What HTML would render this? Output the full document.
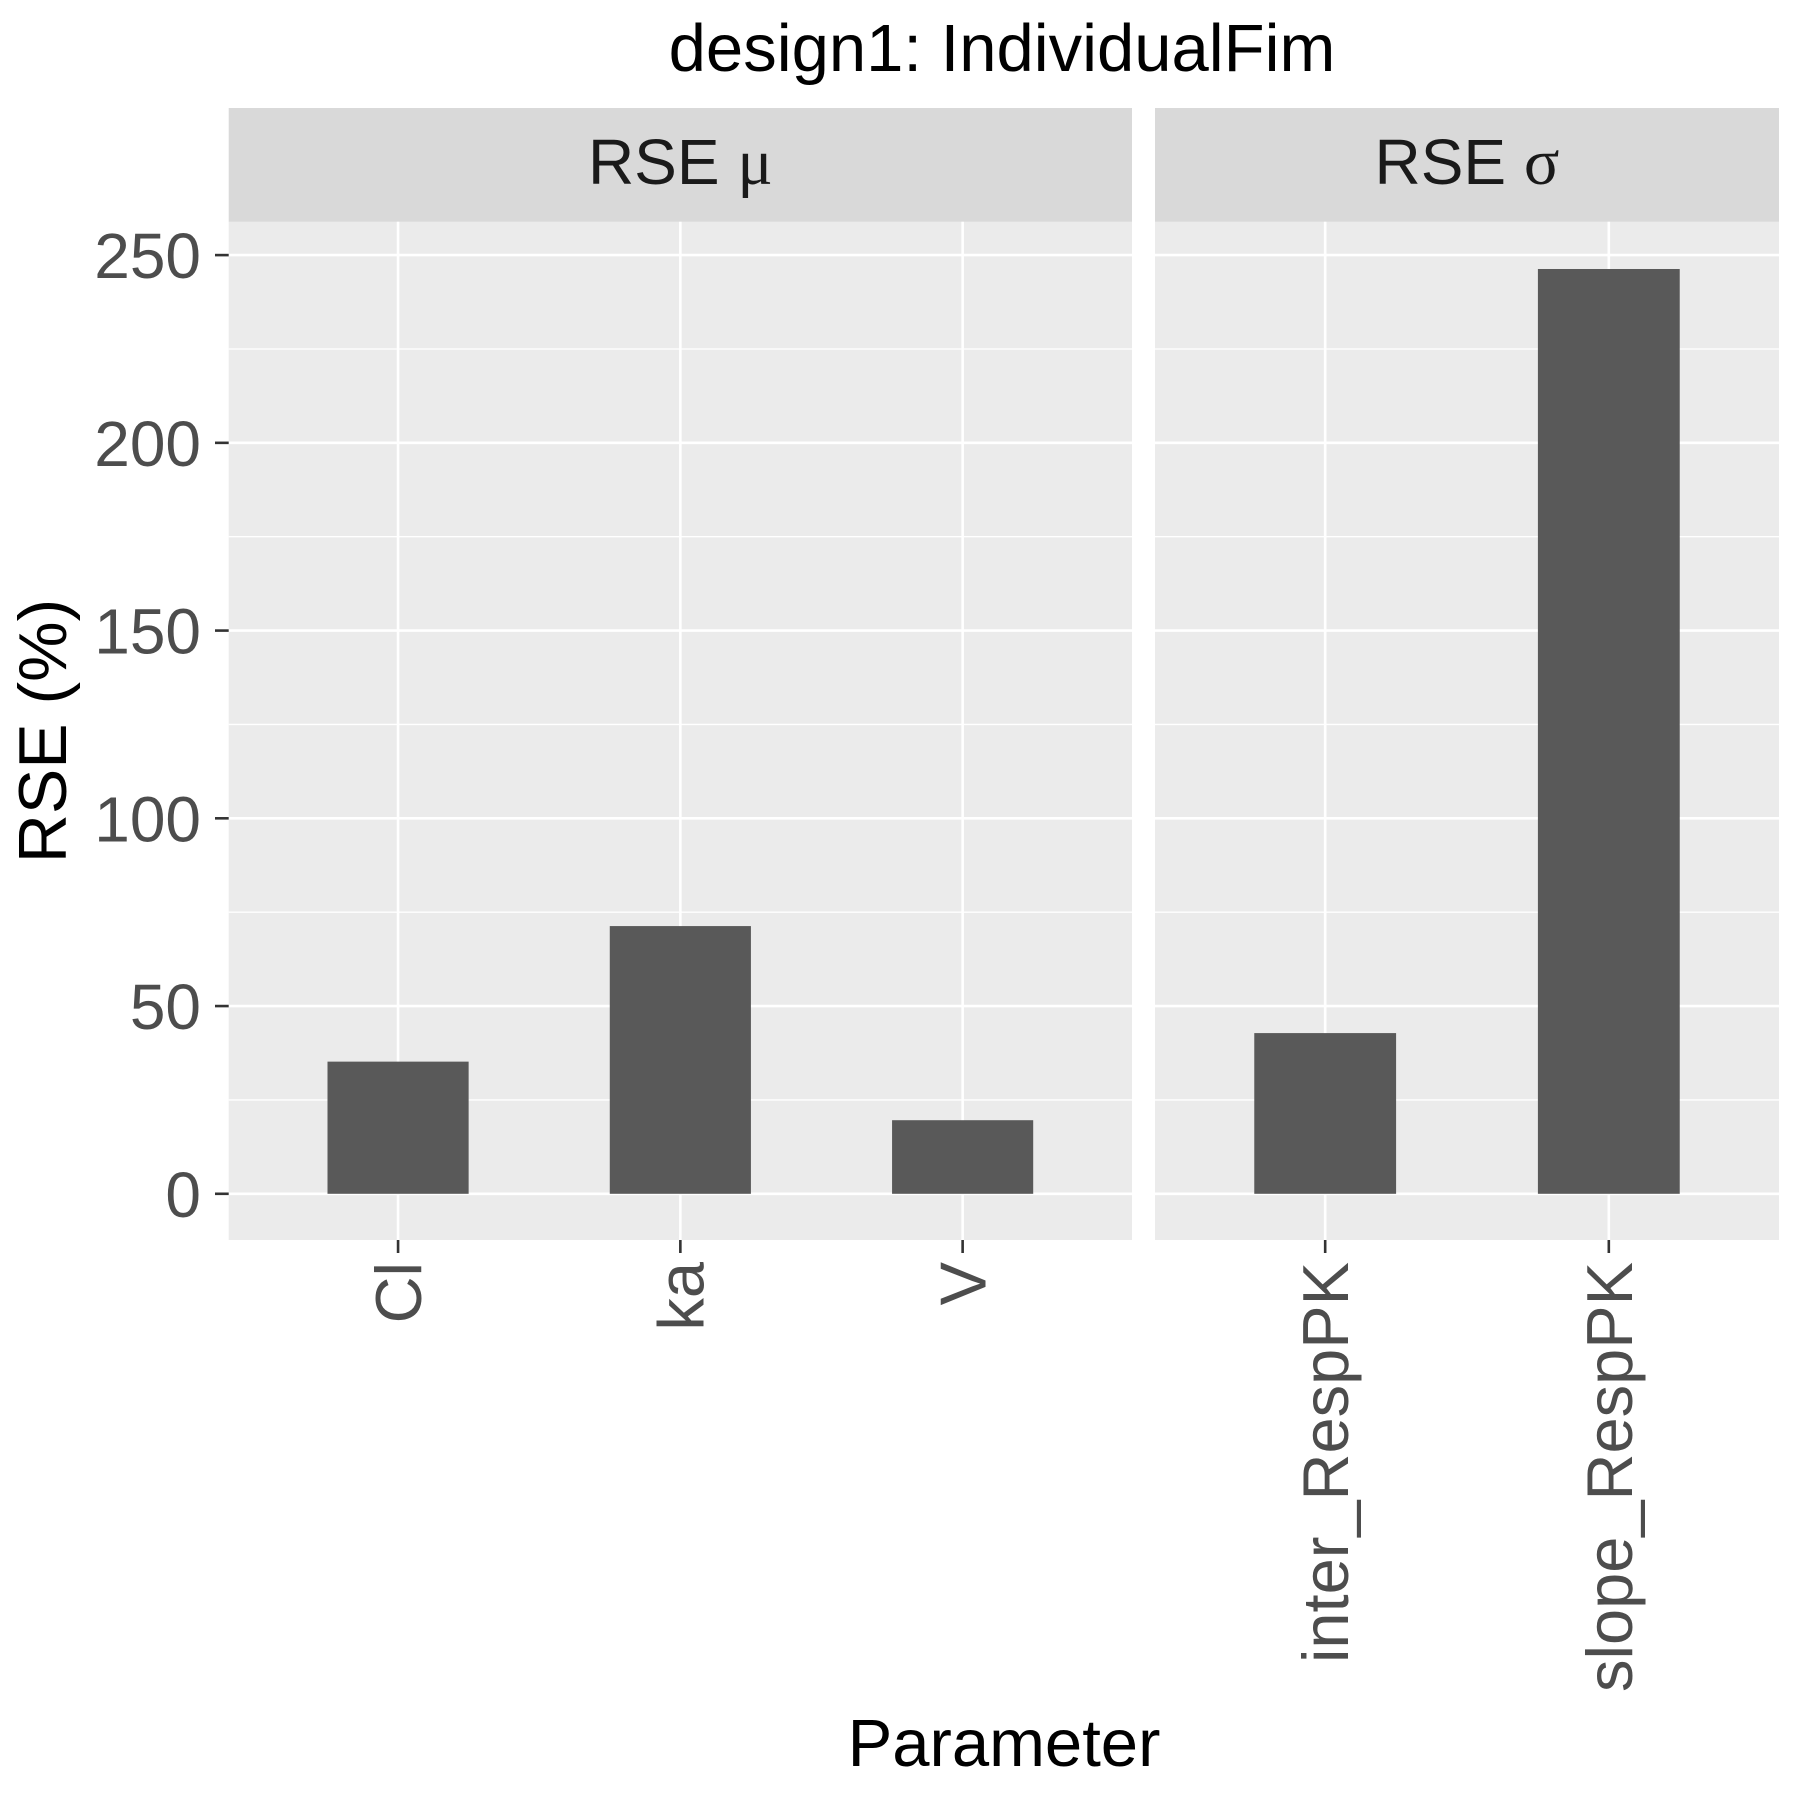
<!DOCTYPE html>
<html><head><meta charset="utf-8"><style>body{margin:0;background:#fff}svg{display:block}</style></head>
<body>
<svg id="chart" width="1800" height="1800" viewBox="0 0 1800 1800" xmlns="http://www.w3.org/2000/svg" font-family="Liberation Sans, Arial, sans-serif">
<text x="1002" y="71" font-size="67" text-anchor="middle" fill="#000">design1: IndividualFim</text>
<text transform="translate(66,731) rotate(-90)" font-size="68" text-anchor="middle" fill="#000">RSE (%)</text>
<text x="1004" y="1766" font-size="67" text-anchor="middle" fill="#000">Parameter</text>
<g id="plot"></g>
</svg>
<script>
const panelSymbols = ["μ", "σ"];
const panel1Categories = ["Cl", "ka", "V"];
const panel1Values = [35.2, 71.3, 19.6];
const panel2Categories = ["inter_RespPK", "slope_RespPK"];
const panel2Values = [42.8, 246.3];
const yTicks = [0, 50, 100, 150, 200, 250];
const yTickLabels = ["0", "50", "100", "150", "200", "250"];

const NS = "http://www.w3.org/2000/svg";
const plotG = document.getElementById("plot");
function mk(tag, attrs, parent) {
  const e = document.createElementNS(NS, tag);
  for (const k in attrs) e.setAttribute(k, attrs[k]);
  (parent || plotG).appendChild(e);
  return e;
}
const plotTop = 221.8, plotBottom = 1240, stripTop = 108;
function yScale(v) { return 1193.8 - (v / 250) * (1193.8 - 255.1); }
const panels = [
  { x0: 228.7, x1: 1132, cats: panel1Categories, vals: panel1Values, key: "mu" },
  { x0: 1155, x1: 1779, cats: panel2Categories, vals: panel2Values, key: "sigma" }
];
panels.forEach((p, pi) => {
  const n = p.cats.length;
  const step = (p.x1 - p.x0) / (n + 0.2);
  const xs = i => p.x0 + (0.6 + i) * step;
  const bg = mk("rect", { x: p.x0, y: plotTop, width: p.x1 - p.x0, height: plotBottom - plotTop, fill: "#ebebeb" });
  
  
  const strip = mk("rect", { x: p.x0, y: stripTop, width: p.x1 - p.x0, height: plotTop - stripTop, fill: "#d9d9d9" });
  
  
  const st = mk("text", { x: (p.x0 + p.x1) / 2, y: 184, "font-size": 64, "text-anchor": "middle", fill: "#1a1a1a" });
  
  
  const t1 = mk("tspan", {}, st);
  t1.textContent = "RSE ";
  const t2 = mk("tspan", { "font-family": "Liberation Serif, serif", "font-size": 66 }, st);
  t2.textContent = panelSymbols[pi];
  for (let i = 0; i < yTicks.length - 1; i++) {
    const m = (yTicks[i] + yTicks[i + 1]) / 2;
    const l = mk("line", { x1: p.x0, x2: p.x1, y1: yScale(m), y2: yScale(m), stroke: "#fff", "stroke-width": 1.3 });
    
    
  }
  yTicks.forEach(t => {
    const l = mk("line", { x1: p.x0, x2: p.x1, y1: yScale(t), y2: yScale(t), stroke: "#fff", "stroke-width": 2.6 });
    
    
  });
  p.cats.forEach((c, i) => {
    const l = mk("line", { x1: xs(i), x2: xs(i), y1: plotTop, y2: plotBottom, stroke: "#fff", "stroke-width": 2.6 });
    
    
  });
  p.cats.forEach((c, i) => {
    const bw = step * 0.5;
    const b = mk("rect", { x: xs(i) - bw / 2, y: yScale(p.vals[i]), width: bw, height: yScale(0) - yScale(p.vals[i]), fill: "#595959" });
    
    
    const tk = mk("line", { x1: xs(i), x2: xs(i), y1: plotBottom, y2: plotBottom + 13, stroke: "#333", "stroke-width": 2.6 });
    
    
    const tl = mk("text", { transform: `translate(${xs(i) + 23},${plotBottom + 22}) rotate(-90)`, "font-size": 65, "text-anchor": "end", fill: "#4d4d4d" });
    tl.textContent = c;
    
    
  });
});
yTicks.forEach((t, i) => {
  const tk = mk("line", { x1: 215, x2: 228.7, y1: yScale(t), y2: yScale(t), stroke: "#333", "stroke-width": 2.6 });
  
  
  const tl = mk("text", { x: 201, y: yScale(t) + 23, "font-size": 64, "text-anchor": "end", fill: "#4d4d4d" });
  tl.textContent = yTickLabels[i];
  
  
});
</script>
</body></html>
